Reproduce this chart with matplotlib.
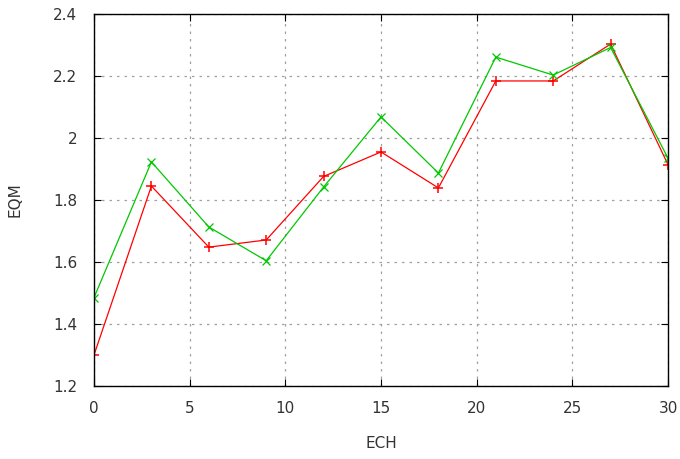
import matplotlib
matplotlib.use("Agg")
from matplotlib import pyplot as plt

# data
ech = [0, 3, 6, 9, 12, 15, 18, 21, 24, 27, 30]
eqm_red = [1.30, 1.845, 1.648, 1.671, 1.876, 1.955, 1.839, 2.184, 2.184, 2.303, 1.914]
eqm_green = [1.485, 1.923, 1.713, 1.604, 1.842, 2.068, 1.887, 2.261, 2.203, 2.292, 1.935]

plt.rcParams['font.family'] = ['DejaVu Sans']

fig = plt.figure(figsize=(6.8, 4.59), dpi=100)
ax = fig.add_axes([94 / 680, 73 / 459, 574 / 680, 372 / 459])

ax.plot(ech, eqm_red, color='#ff0000', linewidth=0.9, marker='+', markersize=7, markeredgewidth=1.1)
ax.plot(ech, eqm_green, color='#00c800', linewidth=0.9, marker='x', markersize=6, markeredgewidth=0.9)

ax.set_xlim(0, 30)
ax.set_ylim(1.2, 2.4)
ax.set_xticks([0, 5, 10, 15, 20, 25, 30])
ax.set_yticks([1.2, 1.4, 1.6, 1.8, 2.0, 2.2, 2.4])
ax.set_yticklabels(['1.2', '1.4', '1.6', '1.8', '2', '2.2', '2.4'])
ax.tick_params(direction='in', top=True, right=True, labelsize=11, length=5,
               labelcolor='#333333')
ax.tick_params(axis='y', pad=12)
ax.tick_params(axis='x', pad=11)
ax.grid(True, linestyle=(0, (2, 4)), color='#a0a0a0', linewidth=0.9)
for s in ax.spines.values():
    s.set_linewidth(1.0)

ax.set_xlabel("ECH", fontsize=11, labelpad=14, color='#333333')
ax.set_ylabel("EQM", fontsize=11, labelpad=22, color='#333333')

fig.savefig("out.png", dpi=100)
